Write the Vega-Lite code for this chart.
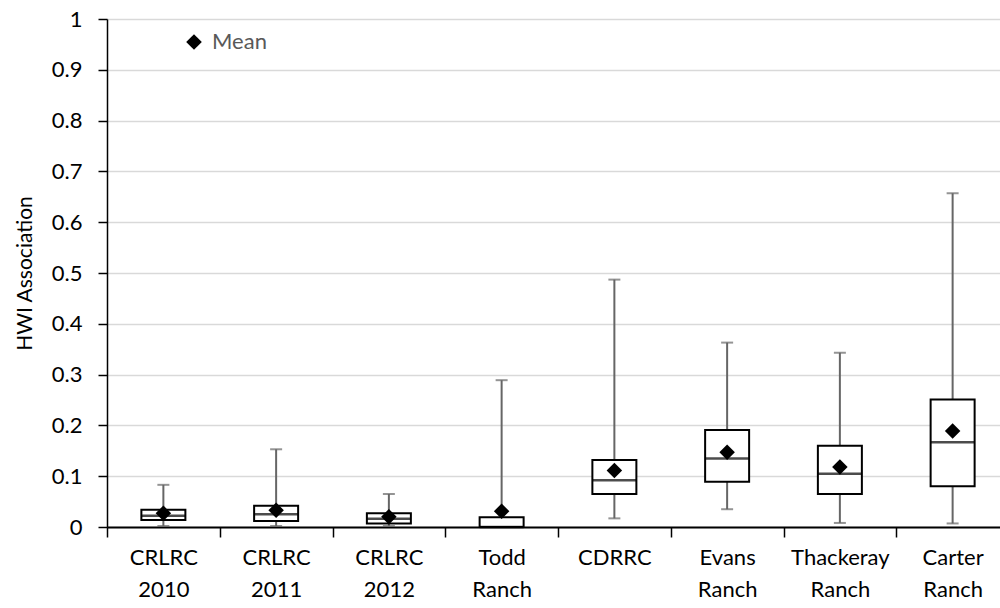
{
  "$schema": "https://vega.github.io/schema/vega-lite/v6.json",
  "width": 893,
  "height": 508,
  "autosize": {"type": "none"},
  "padding": {"left": 107, "top": 19, "right": 0, "bottom": 81},
  "background": "white",
  "config": {
    "font": "Lato",
    "view": {"stroke": null},
    "axis": {"labelFont": "Lato", "titleFont": "Lato", "labelColor": "#000000", "titleColor": "#000000"}
  },
  "data": {
    "values": [
      {"site": "CRLRC 2010", "low": 0.002, "q1": 0.014, "median": 0.022, "q3": 0.034, "high": 0.083, "mean": 0.027},
      {"site": "CRLRC 2011", "low": 0.002, "q1": 0.012, "median": 0.025, "q3": 0.042, "high": 0.153, "mean": 0.033},
      {"site": "CRLRC 2012", "low": 0.002, "q1": 0.007, "median": 0.016, "q3": 0.027, "high": 0.065, "mean": 0.020},
      {"site": "Todd Ranch", "low": 0.0, "q1": 0.0, "median": 0.0, "q3": 0.019, "high": 0.289, "mean": 0.031},
      {"site": "CDRRC", "low": 0.017, "q1": 0.065, "median": 0.092, "q3": 0.132, "high": 0.487, "mean": 0.111},
      {"site": "Evans Ranch", "low": 0.035, "q1": 0.089, "median": 0.135, "q3": 0.191, "high": 0.363, "mean": 0.147},
      {"site": "Thackeray Ranch", "low": 0.008, "q1": 0.065, "median": 0.105, "q3": 0.160, "high": 0.343, "mean": 0.118},
      {"site": "Carter Ranch", "low": 0.007, "q1": 0.080, "median": 0.167, "q3": 0.251, "high": 0.657, "mean": 0.189}
    ]
  },
  "encoding": {
    "x": {
      "field": "site",
      "type": "nominal",
      "sort": null,
      "scale": {"range": [0, 902], "paddingInner": 0, "paddingOuter": 0},
      "axis": {
        "title": null,
        "labelAngle": 0,
        "labelExpr": "split(datum.label, ' ')",
        "labelFontSize": 22,
        "labelLineHeight": 32,
        "labelPadding": 10,
        "labelBaseline": "top",
        "tickBand": "extent",
        "tickSize": 10,
        "tickColor": "#000000",
        "tickWidth": 1.5,
        "domainColor": "#000000",
        "domainWidth": 2,
        "grid": false
      }
    }
  },
  "layer": [
    {
      "mark": {"type": "rule", "color": "#666666", "strokeWidth": 2},
      "encoding": {
        "y": {
          "field": "low",
          "type": "quantitative",
          "scale": {"domain": [0, 1], "nice": false},
          "axis": {
            "title": "HWI Association",
            "titleFontSize": 21,
            "titleFontWeight": "normal",
            "titlePadding": 16,
            "values": [0, 0.1, 0.2, 0.3, 0.4, 0.5, 0.6, 0.7, 0.8, 0.9, 1],
            "format": ".1~f",
            "labelFontSize": 22,
            "labelPadding": 16,
            "tickSize": 9,
            "tickColor": "#000000",
            "tickWidth": 1.5,
            "domainColor": "#000000",
            "domainWidth": 1.5,
            "gridColor": "#d9d9d9",
            "gridWidth": 1.5
          }
        },
        "y2": {"field": "high"}
      }
    },
    {
      "mark": {"type": "tick", "color": "#666666", "size": 12, "thickness": 2},
      "encoding": {"y": {"field": "low", "type": "quantitative"}}
    },
    {
      "mark": {"type": "tick", "color": "#666666", "size": 12, "thickness": 2},
      "encoding": {"y": {"field": "high", "type": "quantitative"}}
    },
    {
      "mark": {"type": "bar", "fill": "white", "stroke": "#000000", "strokeWidth": 2, "size": 44},
      "encoding": {
        "y": {"field": "q1", "type": "quantitative"},
        "y2": {"field": "q3"}
      }
    },
    {
      "mark": {"type": "tick", "color": "#000000", "size": 44, "thickness": 2.5},
      "encoding": {"y": {"field": "median", "type": "quantitative"}}
    },
    {
      "mark": {"type": "point", "shape": "diamond", "filled": true, "opacity": 1, "size": 240},
      "encoding": {
        "y": {"field": "mean", "type": "quantitative"},
        "color": {
          "datum": "Mean",
          "scale": {"range": ["#000000"]},
          "legend": {
            "title": null,
            "orient": "none",
            "legendX": 76,
            "legendY": 12,
            "symbolType": "diamond",
            "symbolSize": 246,
            "symbolFillColor": "#000000",
            "symbolStrokeWidth": 0,
            "labelFont": "Lato",
            "labelFontSize": 22,
            "labelColor": "#595959",
            "labelOffset": 7,
            "padding": 0
          }
        }
      }
    }
  ]
}
